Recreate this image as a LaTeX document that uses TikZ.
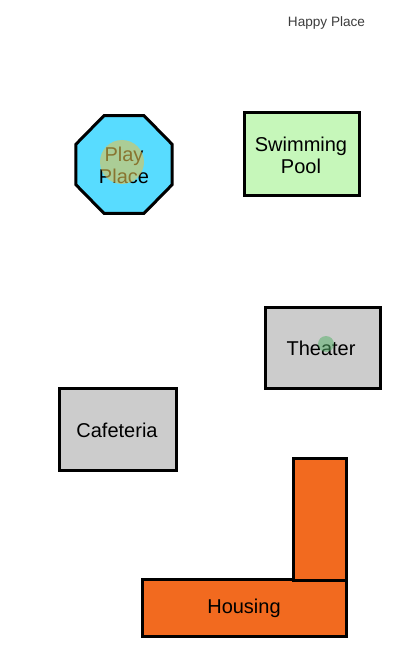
\documentclass[tikz,border=0pt]{standalone}
\usepackage{fontspec}
\setmainfont{Liberation Sans}
\definecolor{playblue}{RGB}{88,220,255}
\definecolor{poolgreen}{RGB}{198,247,186}
\definecolor{roomgray}{RGB}{204,204,204}
\definecolor{houseorange}{RGB}{242,106,31}
\definecolor{spotgold}{RGB}{227,195,80}
\definecolor{spotgreen}{RGB}{80,175,100}
\definecolor{titlegray}{RGB}{60,60,60}
\begin{document}
\begin{tikzpicture}[x=0.75pt,y=-0.75pt,
  room/.style={draw=black,line width=2.25pt,line join=miter},
  roomname/.style={font=\fontsize{15}{16.5}\selectfont,align=center,inner sep=0pt},
  spot/.style={opacity=0.6}]
\useasboundingbox (0,0) rectangle (407,645);
\node[font=\fontsize{10.2}{12}\selectfont,text=titlegray] (title) at (326.5,22.5) {Happy Place};
\draw[room,fill=playblue] (124,164.5) +(22.5:52 and 53) \foreach \a in {67.5,112.5,...,337.5}{-- +(\a:52 and 53)} -- cycle;
\draw[room,fill=poolgreen] (244,113) rectangle (359,196);
\draw[room,fill=roomgray] (265,307) rectangle (380,388);
\draw[room,fill=roomgray] (59,388) rectangle (176,470);
\draw[room,fill=houseorange] (142,579) rectangle (346,636);
\draw[room,fill=houseorange] (293,458) rectangle (346,580);
\node[roomname] (play) at (124,165) {Play\\Place};
\node[roomname] (pool) at (301,155) {Swimming\\Pool};
\node[roomname] (theater) at (321,348) {Theater};
\node[roomname] (cafeteria) at (117,430) {Cafeteria};
\node[roomname] (housing) at (244,608) {Housing};
\fill[spot,fill=spotgold] (122,162) circle (22);
\fill[spot,fill=spotgreen,opacity=0.5] (326,344) circle (8);
\end{tikzpicture}
\end{document}
